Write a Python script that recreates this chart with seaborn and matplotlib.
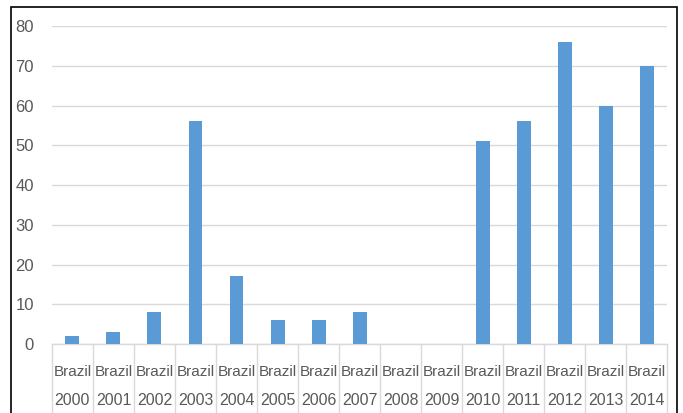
import matplotlib
matplotlib.use("Agg")
import matplotlib.pyplot as plt
import matplotlib.transforms as mtransforms
from matplotlib.lines import Line2D
from matplotlib.patches import Rectangle
import seaborn as sns
import pandas as pd

countries = ["Brazil"] * 15
years = ["2000", "2001", "2002", "2003", "2004", "2005", "2006", "2007",
         "2008", "2009", "2010", "2011", "2012", "2013", "2014"]
values = [2, 3, 8, 56, 17, 6, 6, 8, 0, 0, 51, 56, 76, 60, 70]
y_ticks = [0, 10, 20, 30, 40, 50, 60, 70, 80]

df = pd.DataFrame({"label": [f"{c}\n{y}" for c, y in zip(countries, years)],
                   "value": values})

sns.set_theme(style="white")
plt.rcParams["font.family"] = ["Liberation Sans", "DejaVu Sans"]
text_color = "#595959"
grid_color = "#D9D9D9"

fig = plt.figure(figsize=(6.83, 4.13), dpi=100)
ax = fig.add_axes([0.076, 0.167, 0.901, 0.770])

sns.barplot(data=df, x="label", y="value", color="#5B9BD5", width=0.34,
            saturation=1, linewidth=0, ax=ax, zorder=3)

ax.set_xlim(-0.5, len(values) - 0.5)
ax.set_ylim(0, 80)
ax.set_yticks(y_ticks)
ax.set_yticklabels([str(t) for t in y_ticks], color=text_color, fontsize=12)
ax.tick_params(axis="y", length=0, pad=13)
ax.set_xticks([])
ax.set_xlabel("")
ax.set_ylabel("")
ax.yaxis.grid(True, color=grid_color, linewidth=1, zorder=0)
for side in ["top", "right", "left"]:
    ax.spines[side].set_visible(False)
ax.spines["bottom"].set_color(grid_color)
ax.spines["bottom"].set_linewidth(1)

# two-level category axis: country row and year row, split by separators
trans = mtransforms.blended_transform_factory(ax.transData, ax.transAxes)
for i, (c, y) in enumerate(zip(countries, years)):
    ax.text(i, -0.088, c, transform=trans, ha="center", va="center",
            color=text_color, fontsize=11, clip_on=False)
    ax.text(i, -0.178, y, transform=trans, ha="center", va="center",
            color=text_color, fontsize=11.5, clip_on=False)
for b in range(len(values) + 1):
    ax.add_line(Line2D([b - 0.5, b - 0.5], [0, -0.225], transform=trans,
                       color=grid_color, linewidth=1, clip_on=False))

# chart border
fig.patches.append(Rectangle((11 / 683, -0.05), (677 - 11) / 683,
                             1.05 - 7 / 413, transform=fig.transFigure,
                             fill=False, edgecolor="black", linewidth=1.2))

fig.savefig("out.png", dpi=100)
